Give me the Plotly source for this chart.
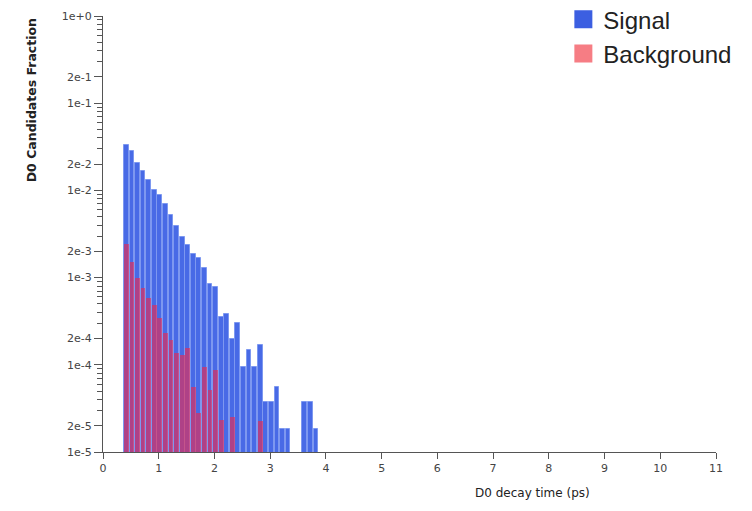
import plotly.graph_objects as go

# D0 decay-time histogram (0.1 ps bins), normalised fractions per bin
bin_centers = [0.42, 0.52, 0.62, 0.72, 0.82, 0.92, 1.02, 1.12, 1.22, 1.32,
               1.42, 1.52, 1.62, 1.72, 1.82, 1.92, 2.02, 2.12, 2.22, 2.32,
               2.42, 2.52, 2.62, 2.72, 2.82, 2.92, 3.02, 3.12, 3.22, 3.32,
               3.42, 3.52, 3.62, 3.72, 3.82]

signal_fraction = [0.0329, 0.0281, 0.0205, 0.0166, 0.0131, 0.0100, 0.0088, 0.0069,
                   0.0052, 0.0039, 0.0029, 0.00234, 0.00188, 0.00169, 0.00128,
                   0.00085, 0.00079, 0.000353, 0.000386, 0.000200, 0.000302,
                   0.0000944, 0.000149, 0.0000944, 0.000167, 0.0000374, 0.0000374,
                   0.0000556, 0.0000185, 0.0000185, None, None, 0.0000374,
                   0.0000374, 0.0000185]

background_fraction = [0.0024, 0.00150, 0.00098, 0.00077, 0.00059, 0.00048, 0.00034,
                       0.00023, 0.00019, 0.000135, 0.000128, 0.000155, 0.0000552,
                       0.0000278, 0.0000937, 0.0000510, 0.0000865, 0.0000231, None,
                       0.0000252, None, None, None, None, 0.0000228, None, None,
                       None, None, None, None, None, None, None, None]

y_tick_values = [1e-5, 2e-5, 1e-4, 2e-4, 1e-3, 2e-3, 1e-2, 2e-2, 1e-1, 2e-1, 1e0]
y_tick_labels = ["1e-5", "2e-5", "1e-4", "2e-4", "1e-3", "2e-3",
                 "1e-2", "2e-2", "1e-1", "2e-1", "1e+0"]
y_minor_values = [m * 10.0 ** e for e in range(-5, 0) for m in range(3, 10)]

SIGNAL_BAR = "rgb(72,106,230)"
SIGNAL_EDGE = "rgb(125,152,240)"
BACKGROUND_BAR = "rgb(245,38,72)"
SIGNAL_KEY = "rgb(60,95,225)"
BACKGROUND_KEY = "rgb(246,125,132)"
AXIS_GREY = "#555555"

fig = go.Figure()

fig.add_trace(go.Bar(
    x=bin_centers, y=signal_fraction, width=0.085,
    marker=dict(color=SIGNAL_BAR, line=dict(color=SIGNAL_EDGE, width=1)),
    showlegend=False, name="Signal",
))
fig.add_trace(go.Bar(
    x=bin_centers, y=background_fraction, width=0.085,
    marker=dict(color=BACKGROUND_BAR, opacity=0.6, line=dict(width=0)),
    showlegend=False, name="Background",
))

# legend keys
for label, col in [("Signal", SIGNAL_KEY), ("Background", BACKGROUND_KEY)]:
    fig.add_trace(go.Scatter(
        x=[None], y=[None], mode="markers", name=label,
        marker=dict(symbol="square", size=16, color=col,
                    line=dict(color=col, width=2)),
    ))

fig.update_layout(
    width=752, height=511,
    margin=dict(l=103, r=36, t=16, b=59, autoexpand=False),
    paper_bgcolor="white", plot_bgcolor="white",
    barmode="overlay", bargap=0,
    font=dict(family="DejaVu Sans", size=11, color="#444444"),
    legend=dict(
        x=0.751, xanchor="left", y=1.043, yanchor="top",
        font=dict(family="Liberation Sans, Arial", size=24, color="#222222"),
        bgcolor="rgba(0,0,0,0)", borderwidth=0,
        tracegroupgap=0, itemsizing="trace",
    ),
    xaxis=dict(
        range=[0, 11], tickmode="linear", tick0=0, dtick=1,
        showgrid=False, zeroline=False, automargin=False,
        showline=True, linecolor=AXIS_GREY, linewidth=1,
        ticks="outside", ticklen=6, tickcolor=AXIS_GREY,
        tickfont=dict(size=11, color="#444444"),
    ),
    yaxis=dict(
        type="log", range=[-5, 0], automargin=False,
        tickmode="array", tickvals=y_tick_values, ticktext=y_tick_labels,
        showgrid=False, zeroline=False,
        showline=True, linecolor=AXIS_GREY, linewidth=1,
        ticks="outside", ticklen=8, tickcolor=AXIS_GREY,
        tickfont=dict(size=11, color="#444444"),
        minor=dict(tickmode="array", tickvals=y_minor_values, ticks="outside",
                   ticklen=5, tickcolor=AXIS_GREY, showgrid=False),
    ),
    annotations=[
        dict(text="<b>D0 Candidates Fraction</b>", textangle=-90,
             xref="paper", yref="paper", x=-0.117, y=1.0,
             xanchor="center", yanchor="top", showarrow=False,
             font=dict(family="DejaVu Sans", size=12.5, color="#222222")),
        dict(text="D0 decay time (ps)",
             xref="paper", yref="paper", x=0.70, y=-0.095,
             xanchor="center", yanchor="middle", showarrow=False,
             font=dict(family="DejaVu Sans", size=12, color="#222222")),
    ],
)

fig.write_html("out.html")
